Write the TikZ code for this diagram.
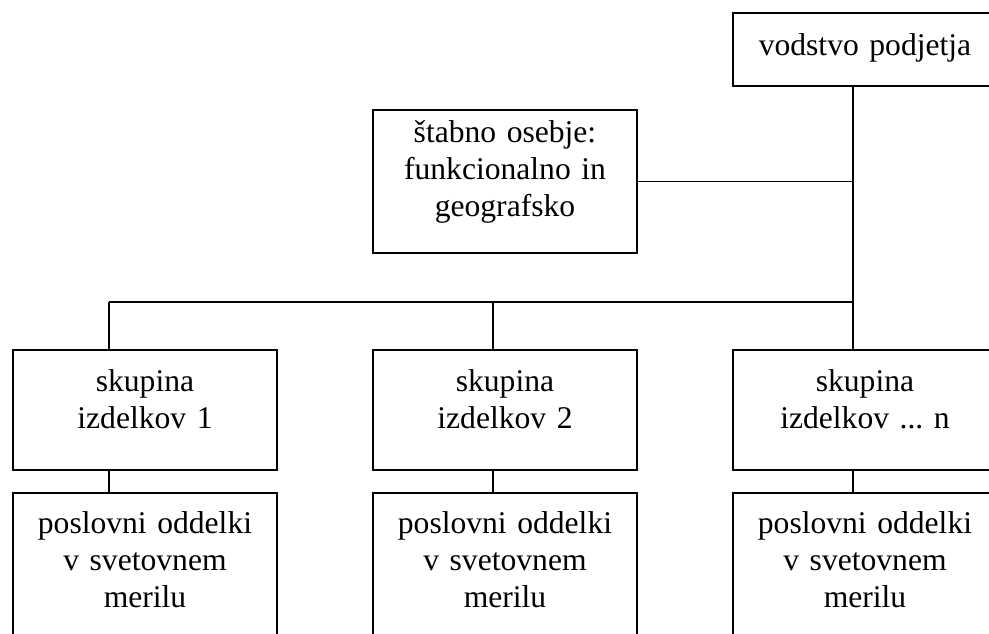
\documentclass[tikz,border=0pt]{standalone}
\usepackage{fontspec}
\setmainfont{Liberation Serif}
\usepackage{tikz}
\usetikzlibrary{positioning}

\tikzset{
  orgbox/.style={draw, line width=2.2pt, inner sep=0pt, outer sep=0pt,
    text width=264pt, align=center, font=\fontsize{31.6}{37}\selectfont\frenchspacing},
  conn/.style={line width=1.9pt}
}

\begin{document}
\begin{tikzpicture}[x=1pt, y=-1pt]
    \clip (0,0) rectangle (989,633);
    % top level and staff
    \node[orgbox, anchor=north west, text height=42pt, text depth=31pt] (vodstvo) at (733,13) {vodstvo podjetja};
    \node[orgbox, anchor=north west, text height=32pt, text depth=111pt] (stab) at (373,110) {štabno osebje:\\funkcionalno in\\geografsko};
    % product groups
    \node[orgbox, anchor=north west, text height=41pt, text depth=79pt] (skup1) at (13,350) {skupina\\izdelkov 1};
    \node[orgbox, right=96pt of skup1, text height=41pt, text depth=79pt] (skup2) {skupina\\izdelkov 2};
    \node[orgbox, right=96pt of skup2, text height=41pt, text depth=79pt] (skup3) {skupina\\izdelkov ... n};
    % business units
    \foreach \i in {1,2,3}
      \node[orgbox, below=23pt of skup\i, text height=40pt, text depth=120pt] (posl\i) {poslovni oddelki\\v svetovnem\\merilu};
    % connectors
    \coordinate (bus1) at (109,302);
    \coordinate (bus2) at (493,302);
    \coordinate (bus3) at (853,302);
    \draw[conn] (vodstvo.south -| bus3) -- (skup3.north -| bus3);
    \draw[conn] (stab.east) -- (stab.east -| bus3);
    \draw[conn] (bus1) -- (bus3);
    \draw[conn] (bus1) -- (skup1.north -| bus1);
    \draw[conn] (bus2) -- (skup2.north -| bus2);
    \foreach \i in {1,2,3}
      \draw[conn] (skup\i.south -| bus\i) -- (posl\i.north -| bus\i);
\end{tikzpicture}
\end{document}
